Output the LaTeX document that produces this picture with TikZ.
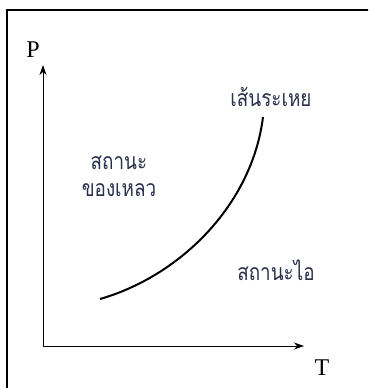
\documentclass[tikz,border=0pt]{standalone}
\usepackage{fontspec}
\setmainfont{Liberation Serif}
\newfontfamily\thaifont[Script=Thai,FakeStretch=0.82]{Loma}
\usetikzlibrary{arrows.meta,positioning}
\definecolor{thaiink}{rgb}{0.16,0.19,0.30}
\begin{document}
\begin{tikzpicture}[x=1pt,y=-1pt,
  thailabel/.style={font=\thaifont\fontsize{23}{27}\selectfont,text=thaiink,inner sep=0pt,align=center},
  axislabel/.style={font=\fontsize{24}{26}\selectfont,inner sep=0pt},
  axisline/.style={line width=1pt,-{Stealth[length=10pt,width=7pt,inset=3pt]}}]
\useasboundingbox (0,0) rectangle (368,388);
\fill[white] (0,0) rectangle (368,388);
\begin{scope}
\clip (0,0) rectangle (368,388);
\draw[line width=1.4pt] (7,10) rectangle (372,394);
\end{scope}
\coordinate (O) at (43,346);
\coordinate (Ptip) at (43,65);
\coordinate (Ttip) at (304,346);
\draw[axisline] (O) -- (Ptip);
\draw[axisline] (O) -- (Ttip);
\node[axislabel] (Plab) at (33,50) {P};
\node[axislabel] (Tlab) at (322,368) {T};
% vapour-pressure curve
\coordinate (cstart) at (100,299);
\coordinate (cend) at (263,117);
\draw[line width=2pt] (cstart) .. controls (180,276) and (252,205) .. (cend);
\node[thailabel] (vapline) at (271,97) {เส้นระเหย};
\node[thailabel] (liquid) at (119,176) {สถานะ\\ของเหลว};
\node[thailabel] (vapour) at (276,270) {สถานะไอ};
\end{tikzpicture}
\end{document}
